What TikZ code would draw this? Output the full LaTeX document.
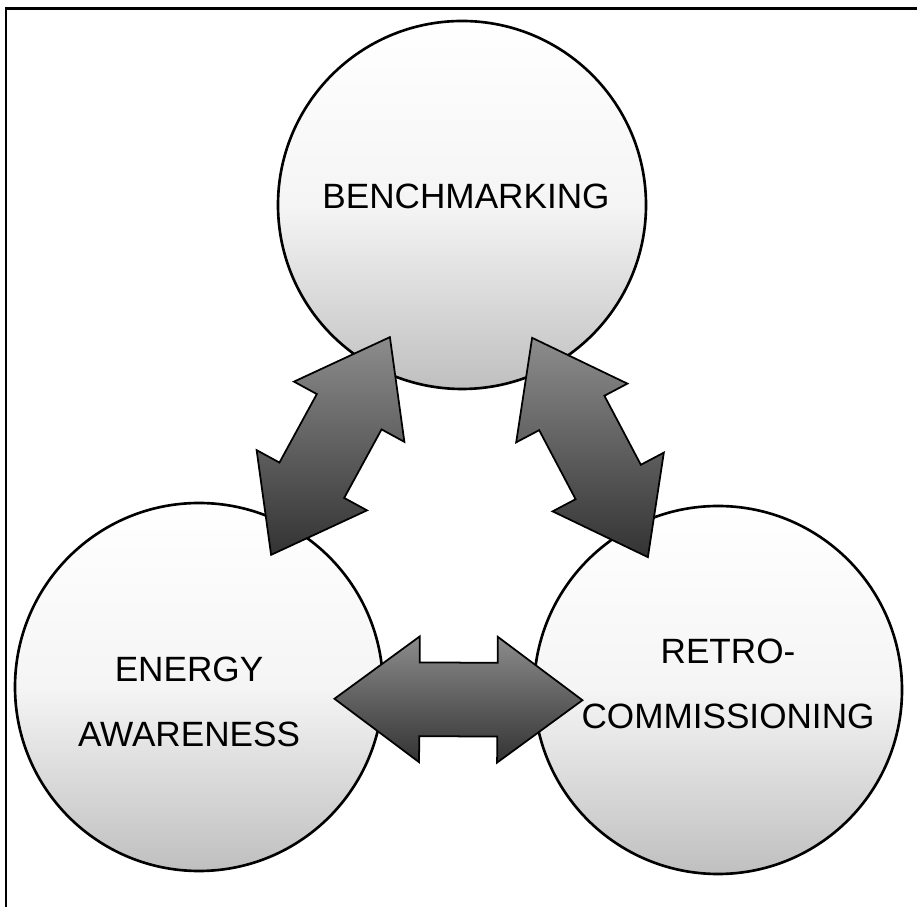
\documentclass[tikz,border=0pt]{standalone}
\usepackage{fontspec}
\setmainfont{Liberation Sans}
\usetikzlibrary{shapes.arrows}
\begin{document}
\begin{tikzpicture}[
		ring/.style={circle, draw=black, line width=1.5pt, minimum size=7.36cm, inner sep=0pt,
			top color=white, bottom color=gray!50, middle color=white!92!gray},
		lbl/.style={align=center, font=\fontsize{20}{37}\selectfont},
		dblarrow/.style={double arrow, draw=black, line width=1pt, minimum height=4.96cm,
			inner xsep=0pt, inner ysep=0.72cm, double arrow head extend=0.52cm,
			double arrow tip angle=73, top color=gray!90, bottom color=black!80}]
		\useasboundingbox (0,0) rectangle (18.34,18.14);
		%frame
		\draw[line width=1.7pt] (0.12,0) -- (0.12,17.96) -- (18.34,17.96);
		
		%circles
		\node[ring] (bench) at (9.24,14.04){};
		\node[ring] (energy) at (3.98,4.40){};
		\node[ring] (retro) at (14.36,4.34){};
		
		\node[lbl, xshift=0.08cm, yshift=0.18cm] (benchlbl) at (bench){BENCHMARKING};
		\node[lbl, xshift=-0.2cm, yshift=-0.3cm] (energylbl) at (energy){ENERGY\\AWARENESS};
		\node[lbl, xshift=0.2cm, yshift=0.12cm] (retrolbl) at (retro){RETRO-\\COMMISSIONING};
		
		%arrows
		\path (energy) -- node[dblarrow, sloped] (benchenergy){} (bench);
		\path (bench) -- node[dblarrow, sloped] (benchretro){} (retro);
		\path (energy) -- node[dblarrow, sloped, yshift=-0.22cm] (energyretro){} (retro);
\end{tikzpicture}
\end{document}
